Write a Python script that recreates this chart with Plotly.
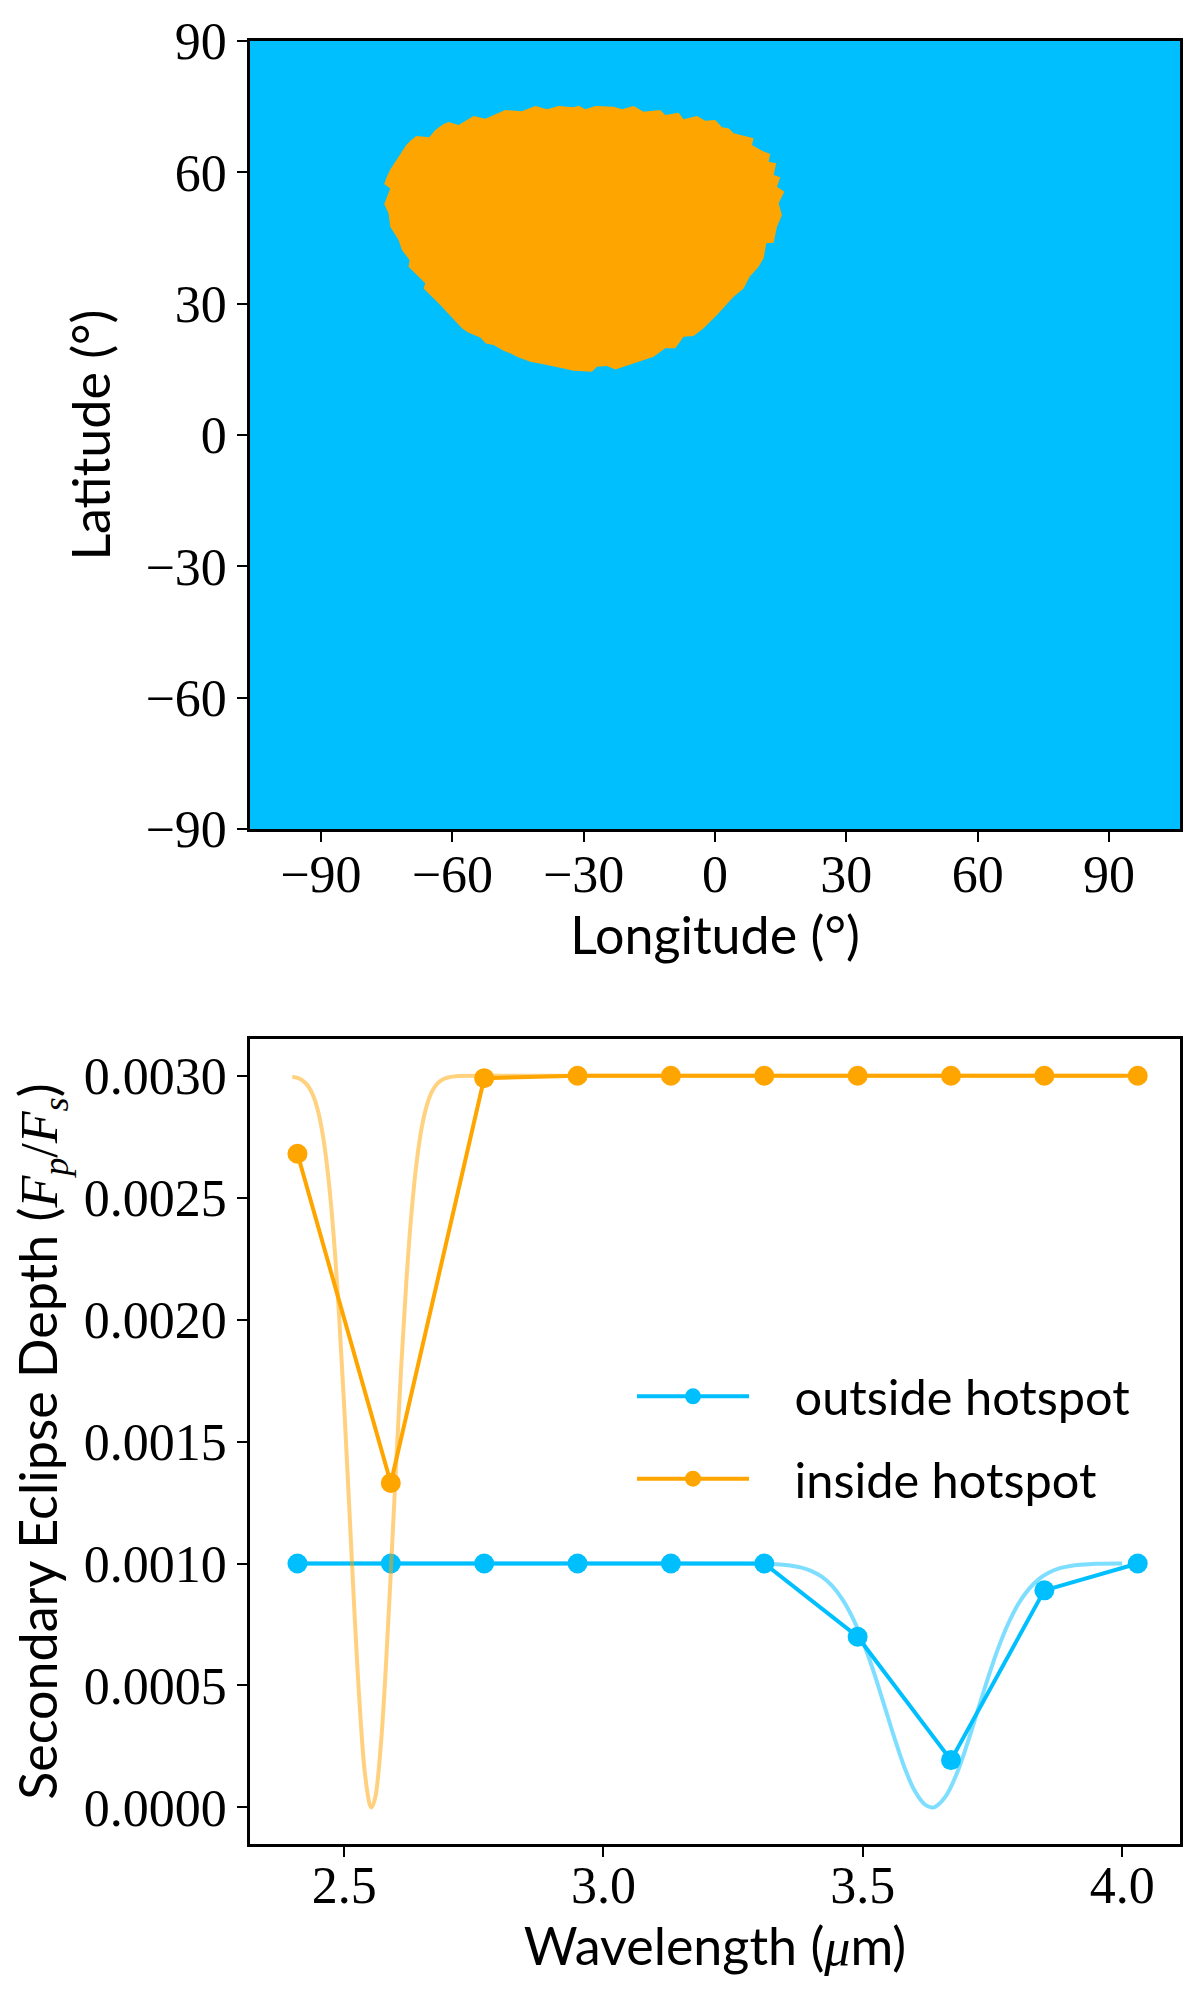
import plotly.graph_objects as go

W, H = 1203, 2004
BLUE = "#00BFFF"
ORANGE = "#FFA500"
SERIF = "Liberation Serif"
SANS = "Lato"

# Map panel
map_lon = [-106.2, 106.2, 106.2, -106.2, -106.2]
map_lat = [-90, -90, 90, 90, -90]
hotspot_lon = [-75.54,-75.08,-74.17,-73.03,-71.89,-70.51,-69.37,-68.23,-65.26,-63.89,-61.99,-60.84,-58.56,-56.28,-55.13,-52.47,-49.80,-47.90,-44.09,-41.05,-38.38,-35.72,-32.29,-31.15,-29.63,-27.34,-23.16,-21.25,-18.59,-16.30,-12.50,-11.36,-8.31,-7.17,-4.12,-2.22,0.06,1.59,3.11,4.25,8.82,8.44,10.73,12.63,12.25,14.00,13.39,14.91,14.15,15.83,14.53,15.29,14.15,13.39,11.71,11.10,9.96,7.91,6.54,4.25,0.45,-2.60,-4.88,-7.17,-9.07,-11.36,-14.02,-18.59,-22.78,-24.68,-26.96,-28.11,-32.29,-34.58,-36.86,-39.53,-42.19,-45.24,-46.76,-48.28,-50.57,-52.32,-53.61,-56.28,-57.80,-60.08,-62.75,-66.56,-66.17,-69.98,-69.75,-71.50,-72.27,-74.17,-74.55,-75.54,-74.93,-74.17]
hotspot_lat = [57.33,58.63,60.68,62.44,64.19,66.24,67.39,68.30,67.99,69.67,71.04,71.50,70.81,72.11,72.87,72.26,73.48,74.24,73.93,75.15,74.39,75.15,74.85,75.23,74.39,75.15,75.00,74.39,75.15,73.86,74.24,73.10,73.63,72.11,72.87,71.80,71.95,70.28,70.05,68.91,67.77,66.24,64.95,64.19,62.44,62.06,59.39,58.86,56.73,55.58,52.92,50.25,47.59,43.93,43.78,40.36,38.45,36.17,33.50,31.60,27.41,24.37,22.62,22.46,19.80,19.80,17.90,16.37,15.00,15.76,15.61,14.47,14.70,15.23,15.61,16.22,16.75,17.90,18.66,19.27,20.56,20.94,22.31,23.38,24.37,26.88,29.70,33.50,34.65,38.45,39.97,42.26,44.54,47.59,50.63,52.77,54.44,56.34]
map_lon_ticks = [-90, -60, -30, 0, 30, 60, 90]
map_lat_ticks = [-90, -60, -30, 0, 30, 60, 90]

# Spectrum panel
band_wave = [2.41, 2.59, 2.77, 2.95, 3.13, 3.31, 3.49, 3.67, 3.85, 4.03]
outside_band = [0.0010, 0.0010, 0.0010, 0.0010, 0.0010, 0.0010, 0.00070, 0.000194, 0.00089, 0.0010]
inside_band = [0.00268, 0.00133, 0.00299, 0.0030, 0.0030, 0.0030, 0.0030, 0.0030, 0.0030, 0.0030]
orange_wave = [2.40,2.41,2.42,2.43,2.44,2.45,2.46,2.47,2.48,2.49,2.50,2.51,2.52,2.53,2.54,2.55,2.553,2.56,2.57,2.58,2.59,2.60,2.61,2.62,2.63,2.64,2.65,2.66,2.67,2.68,2.69,2.70,2.72,2.80,3.00,3.50,4.00]
orange_curve = [0.002996,0.002991,0.00298,0.002959,0.00292,0.002852,0.002742,0.002574,0.002338,0.002026,0.001647,0.001224,0.000797,0.000418,0.00014,0.000008,0.0,0.000041,0.000236,0.00056,0.000965,0.001396,0.001806,0.002159,0.002441,0.002649,0.002792,0.002883,0.002938,0.002969,0.002985,0.002993,0.002999,0.0030,0.0030,0.0030,0.0030]
blue_wave = [2.40,3.00,3.30,3.34,3.36,3.38,3.40,3.42,3.44,3.46,3.48,3.50,3.52,3.54,3.56,3.58,3.60,3.62,3.633,3.64,3.66,3.68,3.70,3.72,3.74,3.76,3.78,3.80,3.82,3.84,3.86,3.88,3.90,3.92,3.95,4.00]
blue_curve = [0.0010,0.0010,0.000999,0.000996,0.000992,0.000984,0.00097,0.000947,0.00091,0.000855,0.000779,0.000681,0.000562,0.000428,0.000291,0.000166,0.000068,0.000011,0.0,0.000003,0.000046,0.000133,0.000252,0.000387,0.000522,0.000647,0.000752,0.000835,0.000895,0.000937,0.000964,0.000981,0.00099,0.000995,0.000999,0.0010]
wave_ticks = [2.5, 3.0, 3.5, 4.0]
depth_ticks = [0.0, 0.0005, 0.0010, 0.0015, 0.0020, 0.0025, 0.0030]

fig = go.Figure()
fig.add_trace(go.Scatter(x=map_lon, y=map_lat, mode="lines", fill="toself", fillcolor=BLUE,
                         line=dict(width=0), showlegend=False, hoverinfo="skip", xaxis="x", yaxis="y"))
fig.add_trace(go.Scatter(x=hotspot_lon, y=hotspot_lat, mode="lines", fill="toself", fillcolor=ORANGE,
                         line=dict(width=0, color=ORANGE), showlegend=False, xaxis="x", yaxis="y"))

marker = dict(size=20)
LW = 4
fig.add_trace(go.Scatter(x=band_wave, y=outside_band, mode="lines+markers", name="\u2002\u2004outside hotspot",
                         line=dict(color=BLUE, width=LW), marker=dict(color=BLUE, **marker),
                         legendgroup="a", xaxis="x2", yaxis="y2"))
fig.add_trace(go.Scatter(x=blue_wave, y=blue_curve, mode="lines", showlegend=False, opacity=0.5,
                         line=dict(color=BLUE, width=LW, shape="spline", smoothing=1),
                         xaxis="x2", yaxis="y2"))
fig.add_trace(go.Scatter(x=band_wave, y=inside_band, mode="lines+markers", name="\u2002\u2004inside hotspot",
                         line=dict(color=ORANGE, width=LW), marker=dict(color=ORANGE, **marker),
                         legendgroup="b", xaxis="x2", yaxis="y2"))
fig.add_trace(go.Scatter(x=orange_wave, y=orange_curve, mode="lines", showlegend=False, opacity=0.5,
                         line=dict(color=ORANGE, width=LW, shape="spline", smoothing=1),
                         xaxis="x2", yaxis="y2"))

axis = dict(showline=True, mirror=True, linecolor="black", linewidth=2.6, ticks="outside", ticklen=10,
            tickwidth=2.4, tickcolor="black", showgrid=False, zeroline=False,
            tickfont=dict(family=SERIF, size=52, color="black"), ticklabelstandoff=0,
            title_font=dict(family=SANS, size=52, color="black"))
AL, AR, AT, AB = 250, 1180, 41, 1843.7
AH = AB - AT
fig.update_layout(
    width=W, height=H, autosize=False, margin=dict(l=AL, r=W - AR, t=AT, b=H - AB, pad=0),
    paper_bgcolor="white", plot_bgcolor="white",
    xaxis=dict(axis, domain=[0, 1], range=[-106.2, 106.2], tickvals=map_lon_ticks, anchor="y", ticklabelstandoff=-12,
               title=dict(text="Longitude (°)", standoff=13)),
    yaxis=dict(axis, domain=[(AB - 829) / AH, 1], range=[-90, 90], tickvals=map_lat_ticks, anchor="x",
               title=dict(text="Latitude (°)", standoff=19)),
    xaxis2=dict(axis, domain=[0, 1], range=[2.3185, 4.1115], tickvals=wave_ticks, tickformat=".1f", anchor="y2", ticklabelstandoff=-16,
                title=dict(text="Wavelength (<span style='font-family:Liberation Serif'><i>μ</i></span>m)", standoff=15)),
    yaxis2=dict(axis, domain=[0, (AB - 1039) / AH], range=[-0.00015, 0.00315], tickvals=depth_ticks,
                tickformat=".4f", anchor="x2",
                title=dict(text="Secondary Eclipse Depth (<span style='font-family:Liberation Serif'><i>F<sub>p</sub></i>/<i>F<sub>s</sub></i></span>)", standoff=10)),
    legend=dict(x=(632 - AL) / (AR - AL), y=(AB - 1358) / AH, xanchor="left", yanchor="top", bgcolor="rgba(0,0,0,0)",
                font=dict(family=SANS, size=48.7, color="black"), itemwidth=112, tracegroupgap=16,
                traceorder="grouped", itemsizing="trace"),
)
fig.write_html("out.html", config={"displayModeBar": False}, post_script="document.body.style.margin='0';")
